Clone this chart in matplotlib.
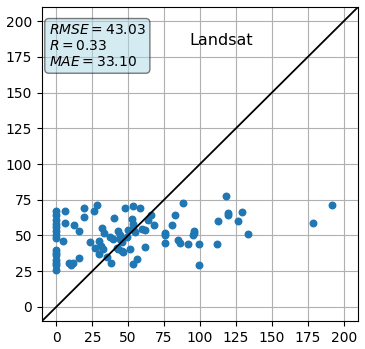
import matplotlib
matplotlib.use("Agg")
import matplotlib.pyplot as plt
import numpy as np

# reference (x) vs Landsat estimate (y)
x_zero = [0] * 15
y_zero = [67, 64, 61, 58, 56, 53, 50, 48, 40, 38, 36, 33, 31, 29, 26]

x_rest = [4.5, 6.3, 6.3, 9, 10.5, 11.5, 15.5, 12.5, 16, 19, 19, 26, 28, 23.5, 27,
          30, 31.3, 29.5, 32, 33.3, 32.8, 35.6, 38, 37.5, 39.4, 40.3, 43, 44, 44.4,
          45.6, 43, 45.6, 46.7, 42, 48, 50, 49.5, 52.5, 53.5, 53.5, 53.3, 56.3, 51.5,
          53.5, 55, 58, 59.4, 61.5, 62, 63.5, 66, 68, 75.3, 75.5, 75.5, 80.5, 82.3,
          88.3, 84.7, 86, 91.4, 95.5, 96, 95.1, 99, 99.5, 112.3, 111.8, 118.2, 119.4,
          119.4, 126.2, 129.2, 133.5, 178.3, 192.2]
y_rest = [46, 67, 59, 30.5, 29, 30.5, 34, 57.3, 53, 69.3, 63, 67, 71.6, 45.6, 41.2,
          46.3, 42.8, 37, 55, 51.5, 40.5, 34.6, 30.5, 48.6, 47.5, 62.2, 53.3, 50.5, 47.5,
          45.1, 40.5, 39.3, 38.1, 41.5, 69.5, 53.5, 49, 61.5, 58, 70.6, 30.2, 33.5, 40.8,
          54.5, 52.5, 69.5, 54.5, 54, 41.6, 60.5, 64.5, 57.5, 52, 50, 45, 57.5, 64.6,
          72.6, 46.8, 44.4, 44, 53.3, 52, 50.3, 44, 29.3, 60.3, 43.7, 77.5, 65.7,
          64.4, 60.1, 66.2, 51, 58.5, 71.6]

x_obs = np.array(x_zero + x_rest)
y_pred = np.array(y_zero + y_rest)

rmse = 43.03
r = 0.33
mae = 33.10
ticks = [0, 25, 50, 75, 100, 125, 150, 175, 200]

fig = plt.figure(figsize=(3.65, 3.49), dpi=100)
ax = fig.add_axes([0.115, 0.08, 0.866, 0.90])

ax.scatter(x_obs, y_pred, s=22, color='tab:blue', zorder=3)
ax.plot([-10, 210], [-10, 210], color='black', linewidth=1.3, zorder=4)

ax.set_xlim(-10, 210)
ax.set_ylim(-10, 210)
ax.set_xticks(ticks)
ax.set_yticks(ticks)
ax.tick_params(labelsize=10)
ax.grid(True)
ax.set_axisbelow(True)

stats = '\n'.join((r'$RMSE=%.2f$' % rmse, r'$R=%.2f$' % r, r'$MAE=%.2f$' % mae))
ax.text(0.022, 0.95, stats, transform=ax.transAxes, fontsize=10,
        va='top', ha='left',
        bbox=dict(boxstyle='round', facecolor='lightblue', alpha=0.5), zorder=5)
ax.text(0.566, 0.893, 'Landsat', transform=ax.transAxes, fontsize=11.5,
        ha='center', va='center')

fig.savefig('out.png', dpi=100)
